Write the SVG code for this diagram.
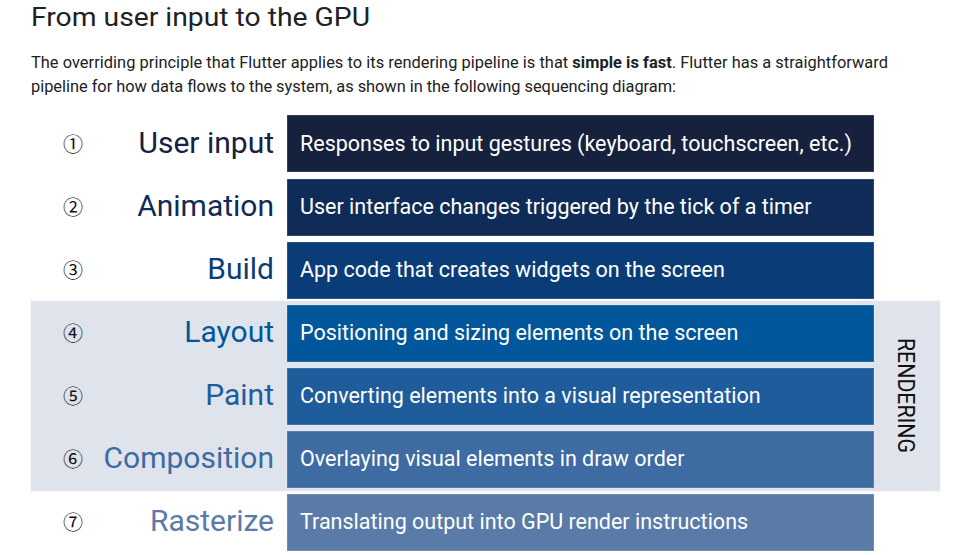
<svg xmlns="http://www.w3.org/2000/svg" width="972" height="555" viewBox="0 0 972 555">
<style>
.title{font-family:Roboto,"Open Sans",sans-serif;font-size:26px;fill:#202124}
.para{font-family:Roboto,sans-serif;font-size:16.4px;fill:#202124}
.num{font-family:"Noto Sans CJK JP","DejaVu Sans",sans-serif;font-size:20px;fill:#111;text-anchor:middle}
.lab{font-family:Roboto,"Open Sans",sans-serif;font-size:30px;text-anchor:end}
.box{stroke:#ffffff;stroke-opacity:0.25;stroke-width:1}
.desc{font-family:Roboto,"Open Sans",sans-serif;font-size:21.5px;fill:#ffffff}
.rend{font-family:Roboto,sans-serif;font-size:24px;fill:#111}
</style>
<rect width="972" height="555" fill="#ffffff"/>
<text class="title" x="31" y="26" textLength="339" lengthAdjust="spacingAndGlyphs">From user input to the GPU</text>
<text class="para" x="31" y="68" textLength="857">The overriding principle that Flutter applies to its rendering pipeline is that <tspan font-weight="bold">simple is fast</tspan>. Flutter has a straightforward</text>
<text class="para" x="31" y="92" textLength="645">pipeline for how data flows to the system, as shown in the following sequencing diagram:</text>
<g id="rendering-group">
<rect x="31" y="301" width="909" height="190" fill="#dfe3ec" stroke="#e8ebf1" stroke-width="1"/>
<text class="rend" transform="translate(898,338) rotate(90)" textLength="115" lengthAdjust="spacingAndGlyphs">RENDERING</text>
</g>
<g id="step1">
<text class="num" x="73" y="152">①</text>
<text class="lab" x="274" y="153" fill="#16213e">User input</text>
<rect class="box" x="287" y="115" width="587" height="57" fill="#16213e"/>
<text class="desc" x="300" y="151">Responses to input gestures (keyboard, touchscreen, etc.)</text>
</g>
<g id="step2">
<text class="num" x="73" y="215">②</text>
<text class="lab" x="274" y="216" fill="#0f2c58">Animation</text>
<rect class="box" x="287" y="179" width="587" height="57" fill="#0f2c58"/>
<text class="desc" x="300" y="214">User interface changes triggered by the tick of a timer</text>
</g>
<g id="step3">
<text class="num" x="73" y="278">③</text>
<text class="lab" x="274" y="279" fill="#0a3d78">Build</text>
<rect class="box" x="287" y="242" width="587" height="57" fill="#0a3d78"/>
<text class="desc" x="300" y="277">App code that creates widgets on the screen</text>
</g>
<g id="step4">
<text class="num" x="73" y="341">④</text>
<text class="lab" x="274" y="342" fill="#02569b">Layout</text>
<rect class="box" x="287" y="305" width="587" height="57" fill="#02569b"/>
<text class="desc" x="300" y="340">Positioning and sizing elements on the screen</text>
</g>
<g id="step5">
<text class="num" x="73" y="404">⑤</text>
<text class="lab" x="274" y="405" fill="#1f5c9c">Paint</text>
<rect class="box" x="287" y="368" width="587" height="57" fill="#1f5c9c"/>
<text class="desc" x="300" y="403">Converting elements into a visual representation</text>
</g>
<g id="step6">
<text class="num" x="73" y="467">⑥</text>
<text class="lab" x="274" y="468" fill="#3d6ba2">Composition</text>
<rect class="box" x="287" y="431" width="587" height="57" fill="#3d6ba2"/>
<text class="desc" x="300" y="466">Overlaying visual elements in draw order</text>
</g>
<g id="step7">
<text class="num" x="73" y="530">⑦</text>
<text class="lab" x="274" y="531" fill="#5a7ba8">Rasterize</text>
<rect class="box" x="287" y="494" width="587" height="57" fill="#5a7ba8"/>
<text class="desc" x="300" y="529">Translating output into GPU render instructions</text>
</g>
<g id="connectors"/>
</svg>
